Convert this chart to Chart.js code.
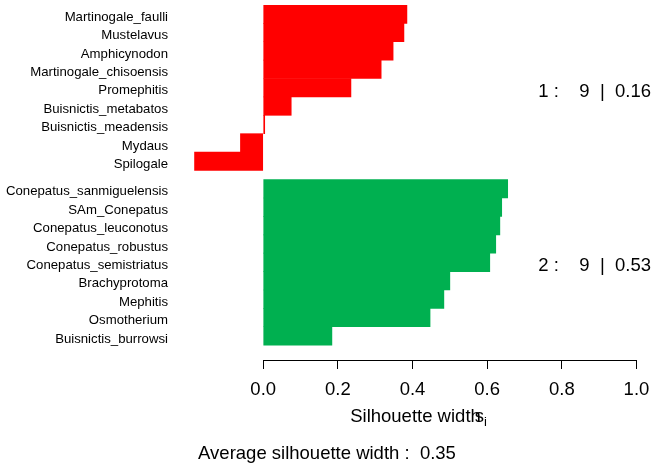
<!DOCTYPE html>
<html>
<head>
<meta charset="utf-8">
<title>Silhouette plot</title>
<script src="https://cdn.jsdelivr.net/npm/chart.js@4.4.1/dist/chart.umd.min.js"></script>
<style>
    html, body { margin: 0; padding: 0; background: #fff; }
    #wrap { width: 654px; height: 471px; }
</style>
</head>
<body>
<div id="wrap"><canvas id="silhouetteChart"></canvas></div>
<script>
// Cluster 1 (red), top to bottom
const clusterOneNames = [
    'Martinogale_faulli', 'Mustelavus', 'Amphicynodon', 'Martinogale_chisoensis',
    'Promephitis', 'Buisnictis_metabatos', 'Buisnictis_meadensis', 'Mydaus', 'Spilogale'
];
const clusterOneWidths = [0.385, 0.377, 0.348, 0.316, 0.235, 0.075, 0.004, -0.061, -0.184];

// Cluster 2 (green), top to bottom
const clusterTwoNames = [
    'Conepatus_sanmiguelensis', 'SAm_Conepatus', 'Conepatus_leuconotus', 'Conepatus_robustus',
    'Conepatus_semistriatus', 'Brachyprotoma', 'Mephitis', 'Osmotherium', 'Buisnictis_burrowsi'
];
const clusterTwoWidths = [0.655, 0.639, 0.634, 0.623, 0.607, 0.500, 0.484, 0.447, 0.184];

// Text on the right of each cluster and under the plot
const clusterSummaries = ['1 :    9  |  0.16', '2 :    9  |  0.53'];
const averageText = 'Average silhouette width :  0.35';

// x axis ticks
const xTickValues = [0, 0.2, 0.4, 0.6, 0.8, 1.0];

const FONT = '"Liberation Sans", Arial, Helvetica, sans-serif';
const BIG = 18.5;
const RED = '#ff0000';
const GREEN = '#00b050';

let silhouetteChart = null;

// One unit per bar, half a unit gap between the clusters
function rowPositions() {
    const first = clusterOneNames.map((_, i) => i);
    const start = clusterOneNames.length + 0.5;
    const second = clusterTwoNames.map((_, i) => start + i);
    return { first, second };
}

function nameAt(value) {
    const rows = rowPositions();
    let i = rows.first.indexOf(value);
    if (i >= 0) return clusterOneNames[i];
    i = rows.second.indexOf(value);
    return i >= 0 ? clusterTwoNames[i] : '';
}

// Axis line from 0 to 1 only, cluster summaries and the s_i of the axis title
const silhouetteExtras = {
    id: 'silhouetteExtras',
    afterDraw(chart) {
        const { ctx, chartArea, scales } = chart;
        const x = scales.x;
        const y = scales.y;
        const rows = rowPositions();

        ctx.save();
        ctx.strokeStyle = '#000';
        ctx.lineWidth = 1;
        const lineY = Math.round(chartArea.bottom) + 0.5;
        ctx.beginPath();
        ctx.moveTo(x.getPixelForValue(xTickValues[0]), lineY);
        ctx.lineTo(x.getPixelForValue(xTickValues[xTickValues.length - 1]), lineY);
        ctx.stroke();

        ctx.fillStyle = '#000';
        ctx.font = BIG + 'px ' + FONT;
        ctx.textAlign = 'right';
        ctx.textBaseline = 'middle';
        [rows.first, rows.second].forEach((pos, k) => {
            const mid = (pos[0] + pos[pos.length - 1]) / 2;
            ctx.fillText(clusterSummaries[k], chartArea.right - 3, y.getPixelForValue(mid) + 4);
        });

        // "s" overlapping the end of the title, then a small subscript "i"
        const titleOpts = x.options.title;
        const w = ctx.measureText(titleOpts.text).width;
        const titleX = (x.left + x.right) / 2;
        const titleY = x.bottom - titleOpts.padding.bottom - BIG * 1.2 / 2;
        const sx = titleX + w / 2 - 6;
        ctx.textAlign = 'left';
        ctx.fillText('s', sx, titleY);
        const sw = ctx.measureText('s').width;
        ctx.font = '13px ' + FONT;
        ctx.fillText('i', sx + sw, titleY + 6);
        ctx.restore();
    }
};

function initializeChart() {
    const ctx = document.getElementById('silhouetteChart');
    const rows = rowPositions();

    silhouetteChart = new Chart(ctx, {
        type: 'bar',
        data: {
            datasets: [
                {
                    label: 'Cluster 1',
                    data: clusterOneWidths.map((v, i) => ({ x: v, y: rows.first[i] })),
                    backgroundColor: RED,
                    borderWidth: 0,
                    grouped: false,
                    barPercentage: 1,
                    categoryPercentage: 1
                },
                {
                    label: 'Cluster 2',
                    data: clusterTwoWidths.map((v, i) => ({ x: v, y: rows.second[i] })),
                    backgroundColor: GREEN,
                    borderWidth: 0,
                    grouped: false,
                    barPercentage: 1,
                    categoryPercentage: 1
                }
            ]
        },
        options: {
            indexAxis: 'y',
            responsive: true,
            maintainAspectRatio: false,
            animation: false,
            layout: { padding: { top: 5, left: 0, right: 0, bottom: 0 } },
            plugins: {
                legend: { display: false },
                tooltip: { enabled: false },
                title: {
                    display: true,
                    position: 'bottom',
                    text: averageText,
                    color: '#000',
                    font: { family: FONT, size: BIG, weight: 'normal' },
                    padding: { top: 0, bottom: 6 }
                }
            },
            scales: {
                x: {
                    type: 'linear',
                    min: -0.231,
                    max: 1.047,
                    afterBuildTicks: scale => {
                        scale.ticks = xTickValues.map(v => ({ value: v }));
                    },
                    afterFit: scale => {
                        scale.height = 82.8;
                        scale.paddingLeft = 0;
                        scale.paddingRight = 0;
                    },
                    ticks: {
                        color: '#000',
                        font: { family: FONT, size: BIG },
                        padding: 10,
                        maxRotation: 0,
                        callback: value => Number(value).toFixed(1)
                    },
                    grid: {
                        drawOnChartArea: false,
                        drawTicks: true,
                        tickLength: 9,
                        color: '#000'
                    },
                    border: { display: false },
                    title: {
                        display: true,
                        text: 'Silhouette width',
                        color: '#000',
                        font: { family: FONT, size: BIG },
                        padding: { top: 0, bottom: 15 }
                    }
                },
                y: {
                    type: 'linear',
                    reverse: true,
                    offset: false,
                    min: -0.5,
                    max: 18.81,
                    afterBuildTicks: scale => {
                        scale.ticks = rows.first.concat(rows.second).map(v => ({ value: v }));
                    },
                    afterFit: scale => {
                        scale.width = 177;
                        scale.paddingTop = 0;
                        scale.paddingBottom = 0;
                    },
                    ticks: {
                        color: '#000',
                        font: { family: FONT, size: 13.2 },
                        padding: 9,
                        labelOffset: 3,
                        autoSkip: false,
                        callback: value => nameAt(value)
                    },
                    grid: { display: false, drawTicks: false },
                    border: { display: false }
                }
            }
        },
        plugins: [silhouetteExtras]
    });
}

document.addEventListener('DOMContentLoaded', initializeChart);
</script>
</body>
</html>
